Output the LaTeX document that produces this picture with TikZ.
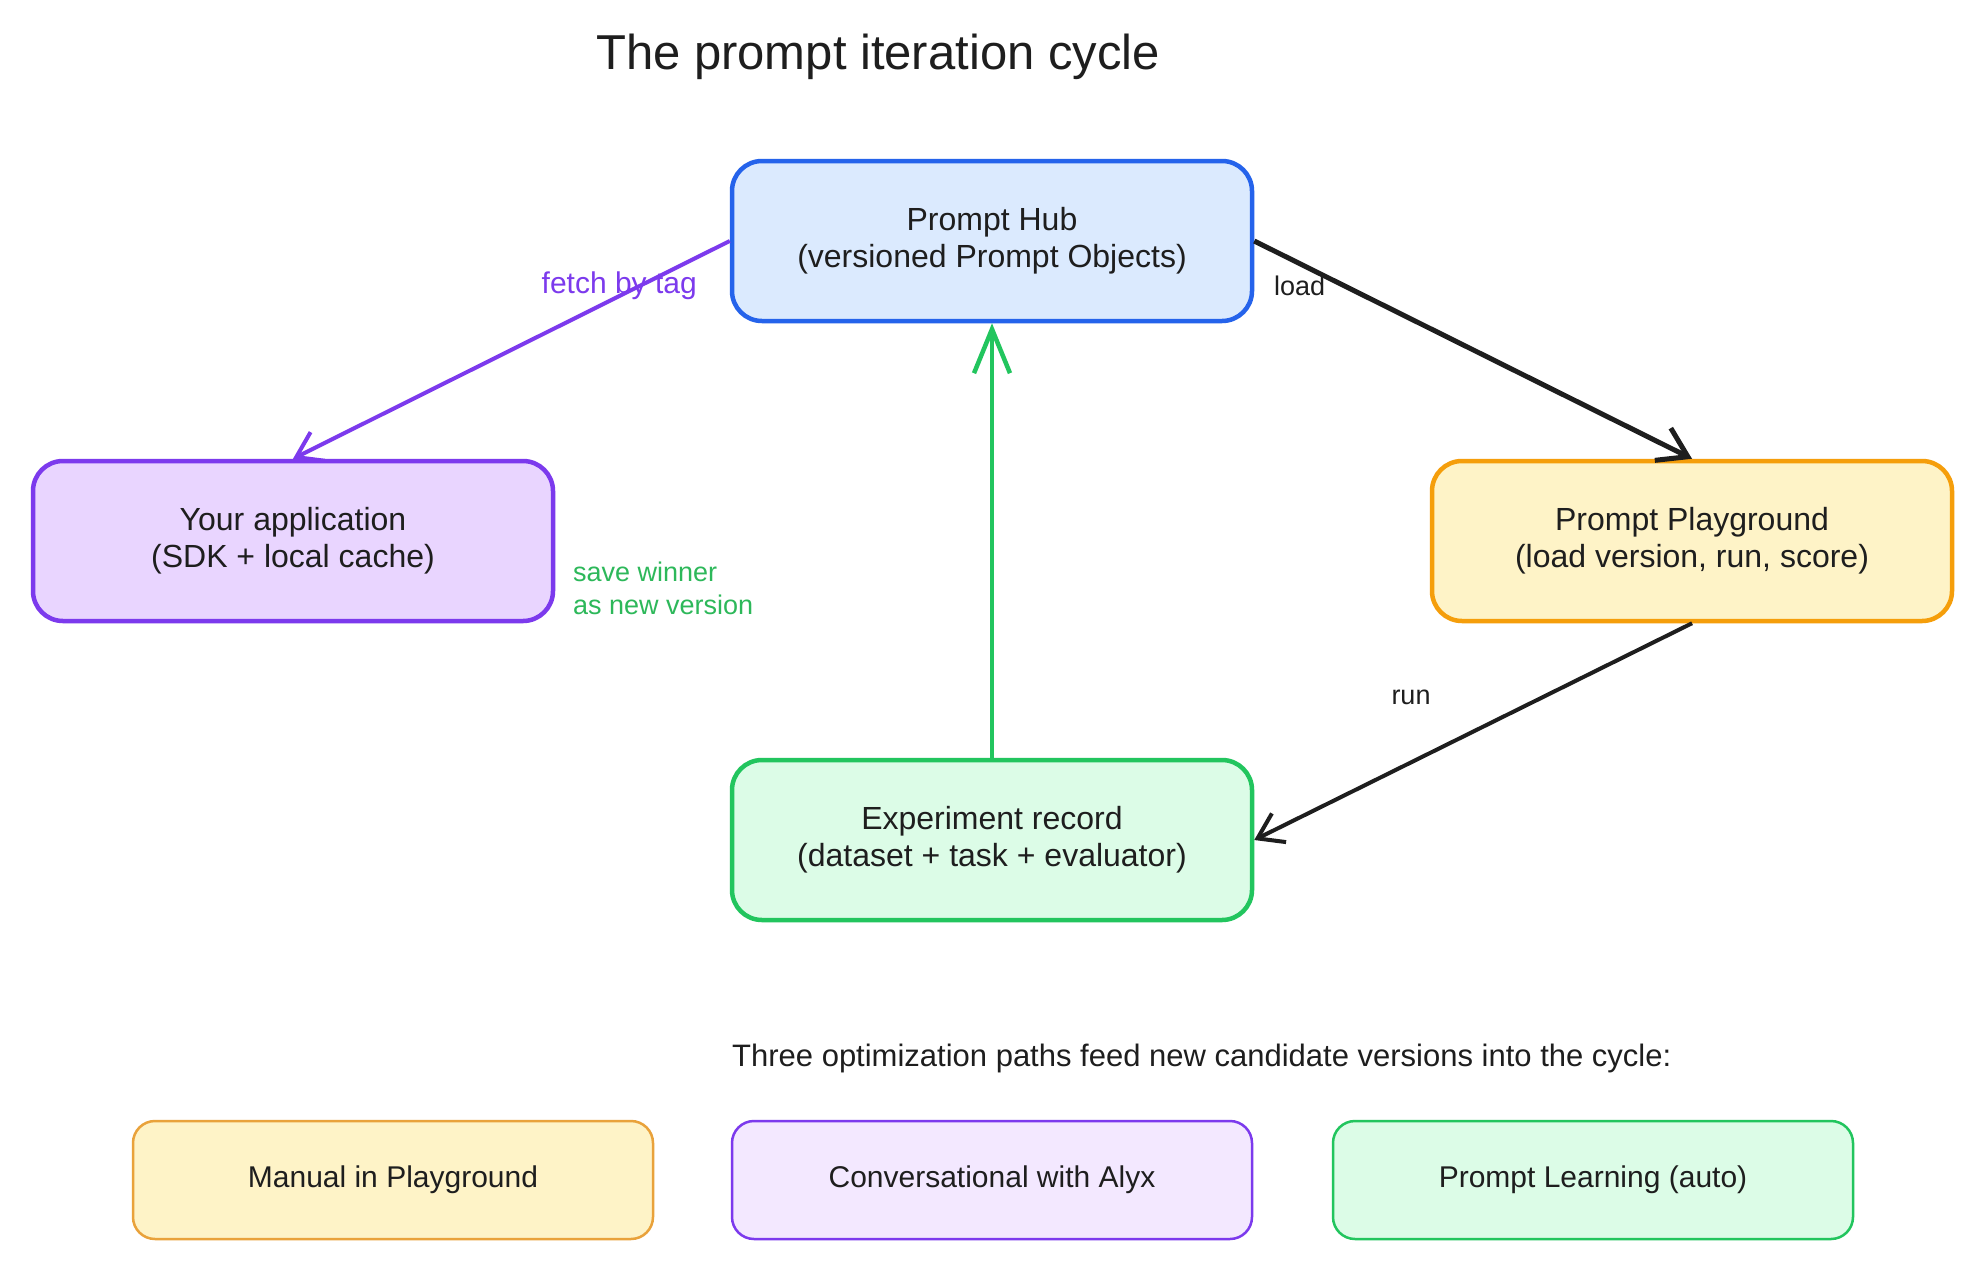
\documentclass[tikz,border=0pt]{standalone}
\usepackage{fontspec}
\setmainfont{Liberation Sans}
\usetikzlibrary{arrows.meta}
\definecolor{ink}{HTML}{1E1E1E}
\definecolor{hubdraw}{HTML}{2563EB}
\definecolor{hubfill}{HTML}{DBEAFE}
\definecolor{appdraw}{HTML}{7C3AED}
\definecolor{appfill}{HTML}{E9D5FF}
\definecolor{playdraw}{HTML}{F59E0B}
\definecolor{playfill}{HTML}{FEF3C7}
\definecolor{expdraw}{HTML}{22C55E}
\definecolor{expfill}{HTML}{DCFCE7}
\definecolor{mandraw}{HTML}{E9A23B}
\definecolor{convfill}{HTML}{F3E8FF}
\definecolor{greentext}{HTML}{2DB85A}
\tikzset{
  mainbox/.style={rounded corners=30pt, line width=4.5pt, minimum width=520pt, minimum height=160pt,
    align=center, text=ink, font=\fontsize{32}{37}\selectfont, inner sep=0pt},
  smallbox/.style={rounded corners=22pt, line width=2.5pt, minimum width=520pt, minimum height=118pt,
    align=center, text=ink, font=\fontsize{30}{35}\selectfont, inner sep=0pt},
  lbl/.style={font=\fontsize{27}{33}\selectfont, inner sep=0pt},
  barb/.style={-{Straight Barb[length=24pt,width=32pt]}},
}
\begin{document}
\begin{tikzpicture}[x=1pt,y=-1pt]
\useasboundingbox (0,0) rectangle (1987,1275);
\fill[white] (0,0) rectangle (1987,1275);

\node[text=ink, font=\fontsize{49}{56}\selectfont, inner sep=0pt] (title) at (878,57) {The prompt iteration cycle};

\node[mainbox, draw=hubdraw, fill=hubfill] (hub) at (992,241) {Prompt Hub\\(versioned Prompt Objects)};
\node[mainbox, draw=appdraw, fill=appfill] (app) at (293,541) {Your application\\(SDK + local cache)};
\node[mainbox, draw=playdraw, fill=playfill] (play) at (1692,541) {Prompt Playground\\(load version, run, score)};
\node[mainbox, draw=expdraw, fill=expfill] (exp) at (992,840) {Experiment record\\(dataset + task + evaluator)};

\draw[barb, draw=appdraw, line width=4pt] (hub.west) -- (app.north);
\draw[-{Straight Barb[length=28pt,width=36pt]}, draw=ink, line width=5pt] (hub.east) -- (play.north);
\draw[barb, draw=ink, line width=4pt] (play.south) -- (exp.east);
\draw[-{Straight Barb[length=44pt,width=36pt]}, draw=expdraw, line width=4.5pt] (exp.north) -- (hub.south);

\node[lbl, text=appdraw, anchor=east, font=\fontsize{30}{33}\selectfont] (fetch) at (697,286) {fetch by tag};
\node[lbl, text=ink, anchor=west] (load) at (1274,286) {load};
\node[lbl, text=ink] (run) at (1411,697) {run};
\node[lbl, text=greentext, anchor=north west, align=left] (save) at (573,562) {save winner\\as new version};

\node[text=ink, font=\fontsize{31}{35}\selectfont, anchor=west, inner sep=0pt] (paths) at (732,1058) {Three optimization paths feed new candidate versions into the cycle:};

\node[smallbox, draw=mandraw, fill=playfill] (manual) at (393,1180) {Manual in Playground};
\node[smallbox, draw=appdraw, fill=convfill] (conv) at (992,1180) {Conversational with Alyx};
\node[smallbox, draw=expdraw, fill=expfill] (learn) at (1593,1180) {Prompt Learning (auto)};
\end{tikzpicture}
\end{document}
